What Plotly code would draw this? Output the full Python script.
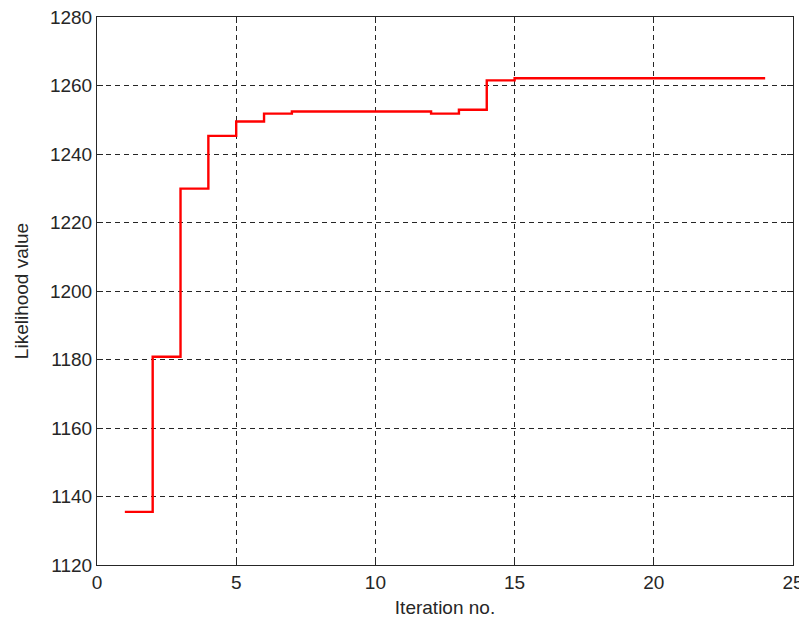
import plotly.graph_objects as go

iterations = list(range(1, 25))
likelihood = [1135.5, 1180.8, 1229.9, 1245.3, 1249.5, 1251.8, 1252.4, 1252.4, 1252.4, 1252.4,
              1252.4, 1251.8, 1252.9, 1261.5, 1262.1, 1262.1, 1262.1, 1262.1, 1262.1, 1262.1,
              1262.1, 1262.1, 1262.1, 1262.1]
x_ticks = [0, 5, 10, 15, 20, 25]
y_ticks = [1120, 1140, 1160, 1180, 1200, 1220, 1240, 1260, 1280]

FONT = "Liberation Sans, Arial, sans-serif"

fig = go.Figure()
fig.add_trace(go.Scatter(x=iterations, y=likelihood, mode="lines",
                         line=dict(color="#ff0000", width=2.4, shape="hv"),
                         showlegend=False, hoverinfo="x+y"))

axis_common = dict(showline=True, linecolor="#262626", linewidth=1, mirror="ticks",
                   ticks="inside", ticklen=6, tickcolor="#262626",
                   showgrid=True, gridcolor="#262626", griddash="5px,4px", gridwidth=1,
                   zeroline=False, automargin=False, ticklabeloverflow="allow",
                   tickfont=dict(family=FONT, size=19, color="#262626"),
                   title_font=dict(family=FONT, size=19, color="#262626"))

# The page body has an 8px margin, so the figure is sized to end at the window edge.
fig.update_layout(
    width=799, height=610,
    margin=dict(l=89, r=14, t=9, b=53),
    paper_bgcolor="white", plot_bgcolor="white",
    xaxis=dict(range=[0, 25], tickvals=x_ticks, title=dict(text="Iteration no.", standoff=11), **axis_common),
    yaxis=dict(range=[1120, 1280], tickvals=y_ticks, title=dict(text="Likelihood value", standoff=16), **axis_common),
)
fig.write_html("out.html")
